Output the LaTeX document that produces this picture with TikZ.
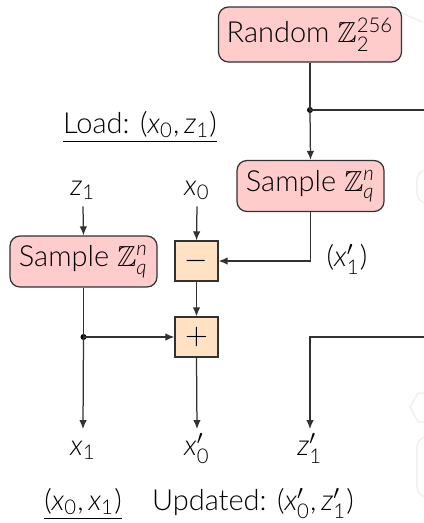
\documentclass[tikz,border=0pt]{standalone}
\usepackage{amsmath,amssymb}
\usepackage{fontspec}
\IfFontExistsTF{Lato Light}{\setmainfont{Lato Light}}{\setmainfont{Lato}}
\usetikzlibrary{arrows.meta}
\definecolor{boxpink}{RGB}{255,204,204}
\definecolor{boxpeach}{RGB}{255,226,196}
\definecolor{linec}{RGB}{50,50,50}
\definecolor{faint}{RGB}{240,240,240}
\newcommand{\vv}[2]{\textit{#1}$_{\text{#2}}$}
\newcommand{\vp}[2]{\textit{#1}$^{\prime}_{\text{#2}}$}
\newcommand{\ZZ}{$\mathbb{Z}$}
\tikzset{
  sampbox/.style={draw=linec, fill=boxpink, rounded corners=4pt, line width=0.5pt,
    minimum width=58.8pt, minimum height=20.4pt, inner sep=2pt},
  opbox/.style={draw=linec, fill=boxpeach, line width=0.5pt,
    minimum width=17.2pt, minimum height=16pt, inner sep=0pt},
  toplbl/.style={inner xsep=0pt, inner ysep=2.4pt, text height=1ex, text depth=0.4ex, anchor=base},
  botlbl/.style={inner xsep=0pt, inner ysep=5.2pt, text height=1ex, text depth=0.4ex, anchor=base},
  txt/.style={inner sep=0pt, anchor=base},
  conn/.style={draw=linec, line width=0.5pt},
  arr/.style={conn, -{Latex[length=3.6pt,width=3pt]}},
  dotc/.style={circle, fill=black, inner sep=0pt, minimum size=2.4pt},
}
\begin{document}
\begin{tikzpicture}[x=0.4pt, y=-0.4pt, font=\fontsize{11.6}{14}\selectfont]
\useasboundingbox (0,0) rectangle (423,523);
% faint background remnants
\draw[faint, line width=0.6pt] (390,0) .. controls (398,12) .. (423,22);
\draw[faint, line width=0.6pt, rounded corners=4pt] (432,170) -- (417,170) -- (417,203) -- (432,203);
\draw[faint, line width=0.6pt] (432,393) -- (418,393) -- (410,407) -- (418,422) -- (432,422);
\draw[faint, line width=0.6pt, rounded corners=4pt] (432,437) -- (417,437) -- (417,497) -- (432,497);

% nodes
\node[sampbox, minimum width=73.2pt, minimum height=22pt] (rnd) at (310,34.5) {Random \ZZ$_{\text{2}}^{\text{256}}$};
\node[sampbox] (s2) at (310.5,186) {Sample \ZZ$_{\textit{q}}^{\textit{n}}$};
\node[sampbox] (s1) at (83.5,261.5) {Sample \ZZ$_{\textit{q}}^{\textit{n}}$};
\node[opbox] (minus) at (196.5,261) {$-$};
\node[opbox] (plus) at (196.5,337) {$+$};

\node[toplbl] (z1) at (83,195) {\vv{z}{1}};
\node[toplbl] (x0) at (197,195) {\vv{x}{0}};

\node[botlbl] (x1) at (83,455) {\vv{x}{1}};
\node[botlbl] (x0p) at (197,455) {\vp{x}{0}};
\node[botlbl] (z1p) at (310,455) {\vp{z}{1}};

\node[txt] (x1p) at (347,266) {(\vp{x}{1})};

\node[txt] (load) at (140,133) {\underline{Load: (\vv{x}{0},\,\vv{z}{1})}};
\node[txt] (pair) at (83,510) {\underline{(\vv{x}{0},\,\vv{x}{1})}};
\node[txt] (upd) at (253,510) {Updated: (\vp{x}{0},\,\vp{z}{1})};

\node[dotc] (d1) at (310,110) {};
\node[dotc] (d2) at (83.5,337) {};
\coordinate (r1) at (430,110);
\coordinate (r2) at (430,337);
\coordinate (c2) at (310,337);

% connectors
\draw[conn] (rnd.south) -- (d1.center);
\draw[arr] (d1.center) -- (s2.north);
\draw[conn] (d1.center) -- (r1);
\draw[arr] (s2.south) |- (minus.east);
\draw[arr] (z1.south) -- (s1.north);
\draw[arr] (x0.south) -- (minus.north);
\draw[conn] (s1.south) -- (d2.center);
\draw[arr] (d2.center) -- (x1.north);
\draw[arr] (d2.center) -- (plus.west);
\draw[arr] (minus.south) -- (plus.north);
\draw[arr] (plus.south) -- (x0p.north);
\draw[arr] (r2) -- (c2) -- (z1p.north);
\end{tikzpicture}
\end{document}
